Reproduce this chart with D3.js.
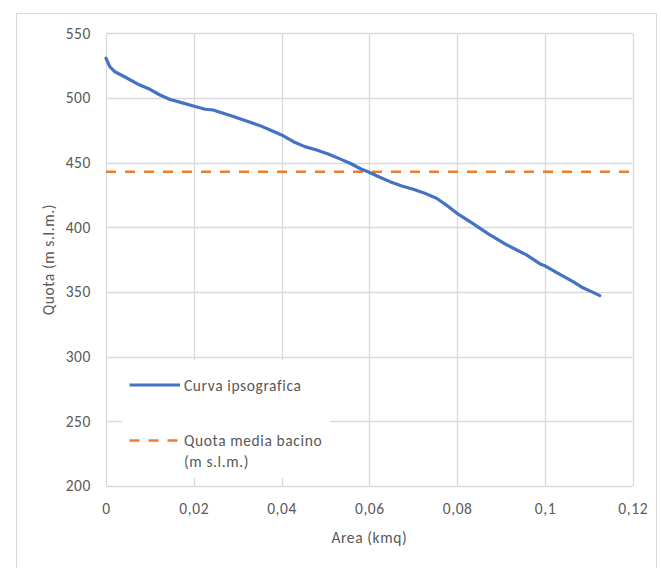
<!DOCTYPE html>
<html><head><meta charset="utf-8">
<script src="https://cdn.jsdelivr.net/npm/d3@7"></script>
<style>body{margin:0;background:#fff}svg{display:block}text{font-family:Carlito,"Liberation Sans",Arial,sans-serif;fill:#595959;letter-spacing:0.6px}</style>
</head><body><svg id="c" width="661" height="568"></svg>
<script>
const areaKmq = [0,0.0009,0.002,0.0039,0.0077,0.01,0.0123,0.0146,0.0168,0.0199,0.0226,0.0244,0.0267,0.029,0.032,0.0351,0.0374,0.04,0.0427,0.0453,0.048,0.0506,0.0533,0.0556,0.0582,0.0597,0.0624,0.0647,0.0674,0.07,0.0723,0.0753,0.0768,0.0784,0.0799,0.0837,0.0871,0.0913,0.0936,0.0958,0.0989,0.1,0.1027,0.1064,0.1084,0.1106,0.1125];
const quota = [530.7,524,520.3,517,510,506.7,502.3,498.8,496.8,493.8,491.3,490.7,488.2,485.6,482.2,478.6,475.3,471.4,466.2,462.4,459.8,456.7,452.9,449.5,444.9,443,438.7,435.3,432,429.4,426.8,422.5,419,415,411,402.6,394.9,386.4,382.5,378.7,371.7,370.2,365,358,353.7,350.3,347.2];
const mediaX = [0,0.12];
const mediaY = [443,443];
const xTicks = [0,0.02,0.04,0.06,0.08,0.1,0.12];
const xTickLabels = ["0","0,02","0,04","0,06","0,08","0,1","0,12"];
const yTicks = [200,250,300,350,400,450,500,550];
const seriesNames = ["Curva ipsografica","Quota media bacino"];
const xTitle = "Area (kmq)", yTitle = "Quota (m s.l.m.)";

const FS = 15.5;
const svg = d3.select("#c");
const L=106, R=632.7, T=33.3, B=486;
const x = d3.scaleLinear().domain([0,0.12]).range([L,R]);
const y = d3.scaleLinear().domain([200,550]).range([B,T]);
const grid="#d9d9d9";

svg.append("rect").attr("x",16.5).attr("y",13.5).attr("width",640).attr("height",560).attr("fill","#fff").attr("stroke",grid);

svg.append("g").selectAll("line").data(yTicks).join("line")
  .attr("x1",L).attr("x2",R).attr("y1",d=>Math.round(y(d))+0.5).attr("y2",d=>Math.round(y(d))+0.5)
  .attr("stroke",grid).attr("stroke-width",1.3);
svg.append("g").selectAll("line").data(xTicks).join("line")
  .attr("y1",T).attr("y2",B).attr("x1",d=>Math.round(x(d))+0.5).attr("x2",d=>Math.round(x(d))+0.5)
  .attr("stroke",grid).attr("stroke-width",1.3);

const fontFam = 'Carlito,"Liberation Sans",Arial,sans-serif';
const xa = svg.append("g").attr("transform",`translate(0,${B})`)
  .call(d3.axisBottom(x).tickValues(xTicks).tickFormat((d,i)=>xTickLabels[i]).tickSize(0).tickPadding(17));
xa.select(".domain").remove();
xa.selectAll("text").attr("font-size",FS).style("fill","#595959").style("font-family",fontFam);
const ya = svg.append("g").attr("transform",`translate(${L},0)`)
  .call(d3.axisLeft(y).tickValues(yTicks).tickFormat(d3.format("d")).tickSize(0).tickPadding(15));
ya.select(".domain").remove();
ya.selectAll("text").attr("font-size",FS).style("fill","#595959").style("font-family",fontFam);

svg.append("text").attr("x",(L+R)/2).attr("y",543).attr("text-anchor","middle").attr("font-size",FS).text(xTitle);
svg.append("text").attr("transform",`translate(54,${(T+B)/2}) rotate(-90)`).attr("text-anchor","middle").attr("font-size",FS).text(yTitle);

const pts = areaKmq.map((a,i)=>[a,quota[i]]);
const line = d3.line().x(d=>x(d[0])).y(d=>y(d[1])).curve(d3.curveLinear);
svg.append("path").datum(mediaX.map((a,i)=>[a,mediaY[i]])).attr("d",line)
  .attr("fill","none").attr("stroke","#ED7D31").attr("stroke-width",2.5).attr("stroke-dasharray","10,9");
svg.append("path").datum(pts).attr("d",line)
  .attr("fill","none").attr("stroke","#4472C4").attr("stroke-width",3.2).attr("stroke-linejoin","round").attr("stroke-linecap","round");

const lg = svg.append("g");
lg.append("rect").attr("x",122).attr("y",360).attr("width",208).attr("height",118).attr("fill","#fff");
lg.append("line").attr("x1",129.5).attr("x2",180).attr("y1",385).attr("y2",385).attr("stroke","#4472C4").attr("stroke-width",3.2);
lg.append("text").attr("x",184).attr("y",390.5).attr("font-size",FS).text(seriesNames[0]);
lg.append("line").attr("x1",129.5).attr("x2",180).attr("y1",440.5).attr("y2",440.5).attr("stroke","#ED7D31").attr("stroke-width",2.5).attr("stroke-dasharray","10,9");
lg.append("text").attr("x",184).attr("y",446).attr("font-size",FS).text(seriesNames[1]);
lg.append("text").attr("x",184).attr("y",467).attr("font-size",FS).text("(m s.l.m.)");
</script></body></html>
